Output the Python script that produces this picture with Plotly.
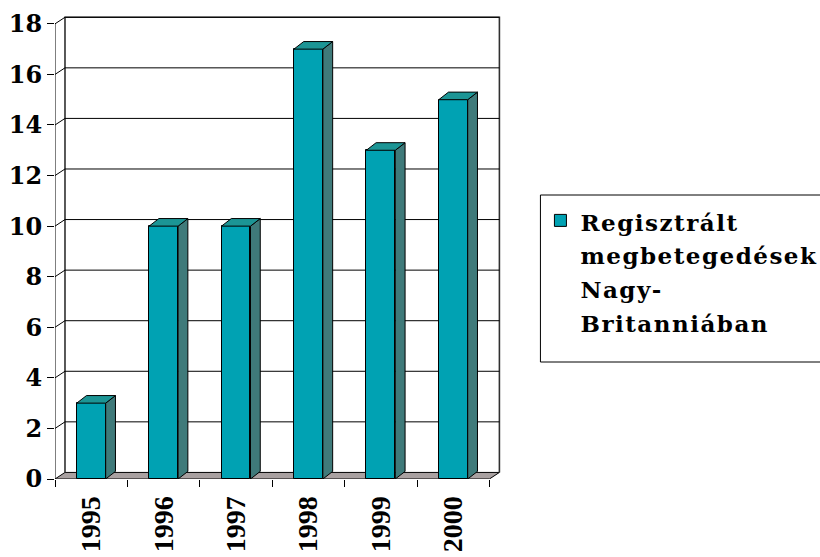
import plotly.graph_objects as go

# Data
years = ["1995", "1996", "1997", "1998", "1999", "2000"]
cases = [3, 10, 10, 17, 13, 15]
legend_lines = ["Regisztrált", "megbetegedések", "Nagy-", "Britanniában"]
y_ticks = [0, 2, 4, 6, 8, 10, 12, 14, 16, 18]

# Styling / pseudo-3D geometry (in axis units)
FRONT = "#00A2B3"
TOP = "#1C9595"
SIDE = "#3F7A7A"
FLOOR = "#A9A1A1"
WALL_DX, WALL_DY = 0.138, 0.26     # depth of the chart box
BAR_DX, BAR_DY = 0.135, 0.30       # depth of each column
BAR_W = 0.4
N = len(years)
YMAX = y_ticks[-1]
XMAX = 6.16
YTOP = 18.35

legend_text = "<br>".join(
    f'<span style="font-size:23px;letter-spacing:1.5px">{ln}</span>' for ln in legend_lines
)

fig = go.Figure()

# Front faces of the columns
centers = [i + 0.5 for i in range(N)]
fig.add_trace(go.Bar(
    x=centers, y=cases, width=BAR_W, name=legend_text,
    marker=dict(color=FRONT, line=dict(color="black", width=1)),
    showlegend=True,
))

# Side and top faces of each column
for c, v in zip(centers, cases):
    x0, x1 = c - BAR_W / 2, c + BAR_W / 2
    fig.add_trace(go.Scatter(
        x=[x1, x1 + BAR_DX, x1 + BAR_DX, x1, x1],
        y=[0, BAR_DY, v + BAR_DY, v, 0],
        fill="toself", fillcolor=SIDE, mode="lines",
        line=dict(color="black", width=1), showlegend=False, hoverinfo="skip",
    ))
    fig.add_trace(go.Scatter(
        x=[x0, x0 + BAR_DX, x1 + BAR_DX, x1, x0],
        y=[v, v + BAR_DY, v + BAR_DY, v, v],
        fill="toself", fillcolor=TOP, mode="lines",
        line=dict(color="black", width=1), showlegend=False, hoverinfo="skip",
    ))

# Invisible trace carrying the year labels axis
fig.add_trace(go.Scatter(x=centers, y=[0] * N, xaxis="x2", mode="markers",
                         marker=dict(opacity=0), showlegend=False, hoverinfo="skip"))

shapes = []
# Floor
shapes.append(dict(
    type="path", layer="below",
    path=f"M 0,0 L {N},0 L {N + WALL_DX},{WALL_DY} L {WALL_DX},{WALL_DY} Z",
    fillcolor=FLOOR, line=dict(color="black", width=1),
))
# Back wall outline
shapes.append(dict(
    type="path", layer="below",
    path=(f"M {WALL_DX},{WALL_DY} L {WALL_DX},{YMAX + WALL_DY} "
          f"L {N + WALL_DX},{YMAX + WALL_DY} L {N + WALL_DX},{WALL_DY}"),
    line=dict(color="#303030", width=1.6),
))
# Gridlines across side wall and back wall
for t in y_ticks[1:]:
    shapes.append(dict(
        type="path", layer="below",
        path=f"M 0,{t} L {WALL_DX},{t + WALL_DY} L {N + WALL_DX},{t + WALL_DY}",
        line=dict(color="black", width=1),
    ))
# Front value axis line
shapes.append(dict(type="line", layer="below", x0=0, x1=0, y0=0, y1=YMAX,
                   line=dict(color="black", width=1)))
# Legend frame
shapes.append(dict(type="rect", xref="paper", yref="paper",
                   x0=(540 - 55) / 445.6, x1=(822 - 55) / 445.6,
                   y0=(479 - 362) / 464, y1=(479 - 195) / 464,
                   line=dict(color="black", width=1), fillcolor="rgba(0,0,0,0)"))

serif_bold = dict(family="DejaVu Serif", size=24, color="black", weight="bold")

fig.update_layout(
    width=820, height=557,
    margin=dict(l=55, r=319, t=15, b=78, autoexpand=False),
    paper_bgcolor="white", plot_bgcolor="white",
    bargap=0,
    shapes=shapes,
    xaxis=dict(range=[0, XMAX], tickvals=list(range(N + 1)), showticklabels=False,
               ticks="outside", ticklen=7, tickcolor="black", tickwidth=1,
               showgrid=False, zeroline=False, showline=False, automargin=False),
    xaxis2=dict(range=[0, XMAX], overlaying="x", anchor="y", side="bottom",
                tickvals=centers, ticktext=years, tickangle=-90,
                ticks="outside", ticklen=5, tickcolor="rgba(0,0,0,0)",
                tickfont=dict(family="Liberation Serif", size=28, color="black", weight="bold"),
                showgrid=False, zeroline=False, showline=False, automargin=False),
    yaxis=dict(range=[0, YTOP], tickvals=y_ticks, ticks="outside", ticklen=7,
               tickcolor="black", tickwidth=1, tickfont=serif_bold,
               showgrid=False, zeroline=False, showline=False, automargin=False),
    legend=dict(x=(540 - 55) / 445.6, xanchor="left", y=(479 - 197) / 464, yanchor="top",
                borderwidth=0, bgcolor="rgba(0,0,0,0)",
                font=dict(family="DejaVu Serif", size=26, color="black", weight="bold"),
                valign="top"),
)

fig.write_html("out.html")
